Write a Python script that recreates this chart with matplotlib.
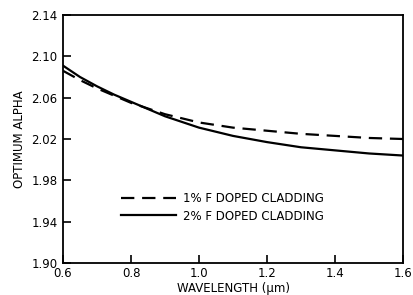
import matplotlib
matplotlib.use("Agg")
import matplotlib.pyplot as plt

wavelength = [0.6, 0.65, 0.7, 0.75, 0.8, 0.9, 1.0, 1.1, 1.2, 1.3, 1.4, 1.5, 1.6]
alpha_1pct = [2.086, 2.077, 2.069, 2.062, 2.055, 2.044, 2.036, 2.031, 2.028, 2.025, 2.023, 2.021, 2.020]
alpha_2pct = [2.091, 2.080, 2.071, 2.063, 2.056, 2.042, 2.031, 2.023, 2.017, 2.012, 2.009, 2.006, 2.004]
labels = ["1% F DOPED CLADDING", "2% F DOPED CLADDING"]
xticks = [0.6, 0.8, 1.0, 1.2, 1.4, 1.6]
xticklabels = ["0.6", "0.8", "1.0", "1.2", "1.4", "1.6"]
yticks = [1.90, 1.94, 1.98, 2.02, 2.06, 2.10, 2.14]
yticklabels = ["1.90", "1.94", "1.98", "2.02", "2.06", "2.10", "2.14"]

plt.rcParams['font.family'] = ['DejaVu Sans']
fig = plt.figure(figsize=(4.13, 2.95), dpi=100)
ax = fig.add_axes([63/413, 32/295, 340/413, 248/295])

ax.plot(wavelength, alpha_1pct, color='black', lw=1.6, linestyle=(0, (6, 3.5)), label=labels[0])
ax.plot(wavelength, alpha_2pct, color='black', lw=1.6, linestyle='-', label=labels[1])

ax.set_xlim(0.6, 1.6)
ax.set_ylim(1.90, 2.14)
ax.set_xticks(xticks)
ax.set_xticklabels(xticklabels)
ax.set_yticks(yticks)
ax.set_yticklabels(yticklabels)
ax.tick_params(direction='in', length=6, width=1.2, labelsize=8.5, pad=4)
ax.tick_params(axis='x', pad=3)
for s in ax.spines.values():
    s.set_linewidth(1.3)

ax.set_xlabel("WAVELENGTH (\u03bcm)", fontsize=8.5, labelpad=1)
ax.set_ylabel("OPTIMUM ALPHA", fontsize=8.5, labelpad=4)

leg = ax.legend(loc='lower left', bbox_to_anchor=(0.14, 0.12), frameon=False,
                fontsize=8.5, handlelength=4.6, handletextpad=0.6, labelspacing=0.35)

fig.savefig("out.png", dpi=100)
